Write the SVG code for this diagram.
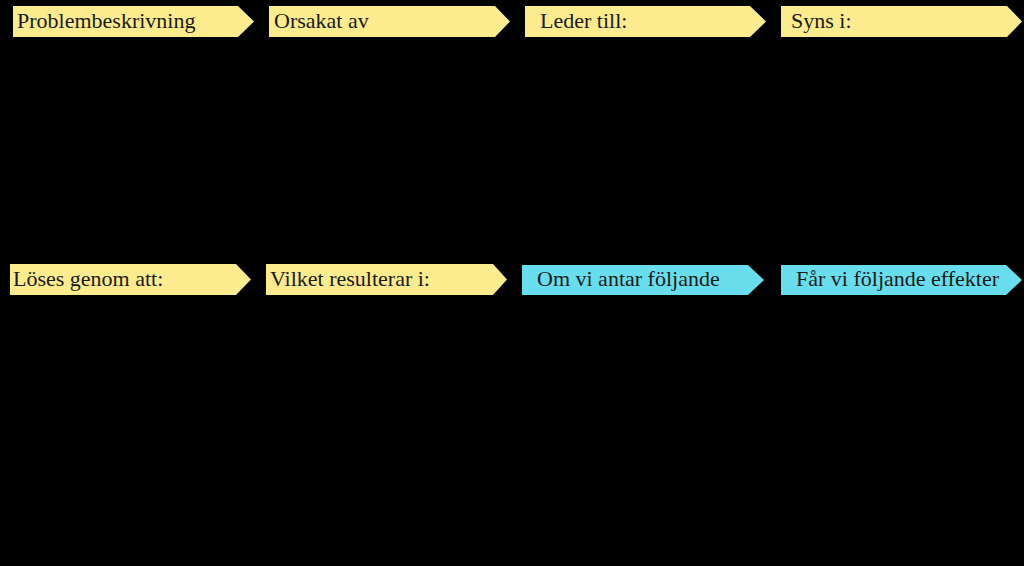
<svg xmlns="http://www.w3.org/2000/svg" width="1024" height="566" viewBox="0 0 1024 566">
<style>
.y{fill:#FCEC8E}
.c{fill:#68DDEC}
text{font-family:"Liberation Serif","Times New Roman",serif;font-size:22px;fill:#1a1a1a}
</style>
<rect width="1024" height="566" fill="#000"/>
<g id="n1"><polygon class="y" points="13,6 238,6 254,21.5 238,37 13,37"/><text x="17" y="28">Problembeskrivning</text></g>
<g id="n2"><polygon class="y" points="269,6 495,6 510,21.5 495,37 269,37"/><text x="274" y="28">Orsakat av</text></g>
<g id="n3"><polygon class="y" points="525,6 750,6 766,21.5 750,37 525,37"/><text x="540" y="28">Leder till:</text></g>
<g id="n4"><polygon class="y" points="781,6 1007,6 1022,21.5 1007,37 781,37"/><text x="791" y="28">Syns i:</text></g>
<g id="n5"><polygon class="y" points="10,264 236,264 251,279.5 236,295 10,295"/><text x="13" y="286">Löses genom att:</text></g>
<g id="n6"><polygon class="y" points="266,264 493,264 507,279.5 493,295 266,295"/><text x="270" y="286">Vilket resulterar i:</text></g>
<g id="n7"><polygon class="c" points="522,265 748,265 764,280 748,295 522,295"/><text x="537" y="286">Om vi antar följande</text></g>
<g id="n8"><polygon class="c" points="781,265 1006,265 1022,280 1006,295 781,295"/><text x="796" y="286">Får vi följande effekter</text></g>
<g id="connectors"></g>
</svg>
